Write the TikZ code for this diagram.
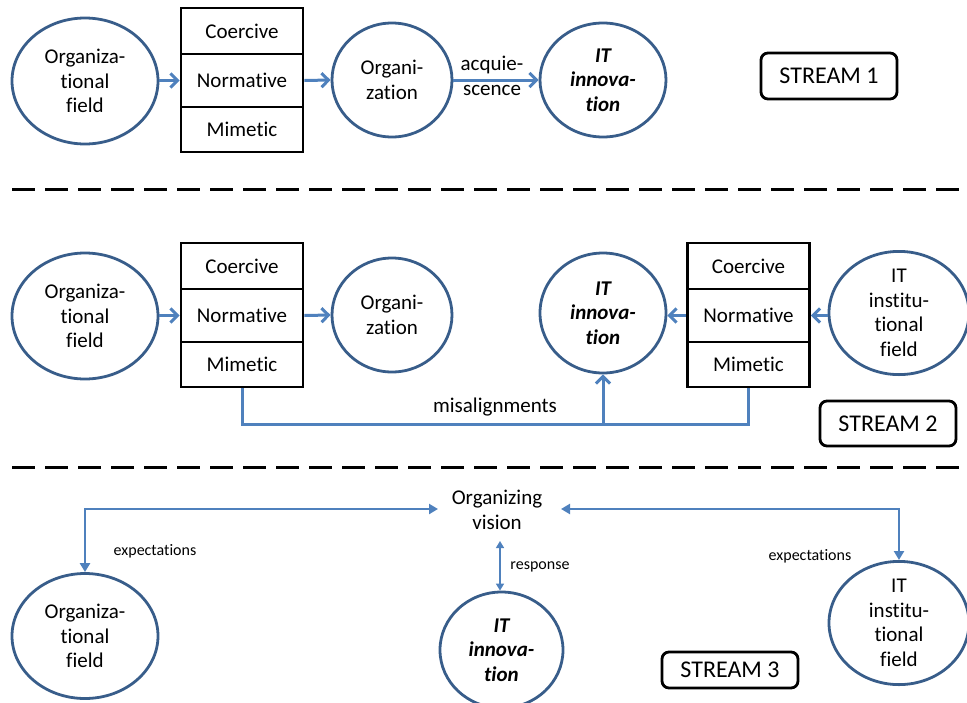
\documentclass[tikz,border=0pt]{standalone}
\usepackage{fontspec}
\setmainfont{Carlito}[Ligatures=NoCommon]
\usetikzlibrary{shapes.geometric,arrows.meta}
\definecolor{ellblue}{HTML}{385D8A}
\definecolor{arrblue}{HTML}{4F81BD}
\begin{document}
\begin{tikzpicture}[x=1pt,y=-1pt,
  every node/.style={font=\fontsize{21}{24.5}\selectfont},
  ell/.style={draw=ellblue,line width=2.8pt,ellipse,inner sep=0pt,align=center},
  cell/.style={draw=black,line width=2.8pt,rectangle,minimum width=122pt,inner sep=0pt},
  streambox/.style={draw=black,line width=2.8pt,rectangle,rounded corners=7pt,minimum width=136pt,inner sep=0pt,font=\fontsize{24}{28}\selectfont},
  oarrow/.style={draw=arrblue,line width=3pt,-{Straight Barb[length=7pt,width=14pt,line width=3pt]}},
  bline/.style={draw=arrblue,line width=3pt},
  farrow/.style={draw=arrblue,line width=2.6pt,{Triangle[length=9pt,width=10pt]}-{Triangle[length=9pt,width=10pt]}},
  tarrow/.style={draw=arrblue,line width=1.5pt,{Triangle[length=7pt,width=8pt]}-{Triangle[length=7pt,width=8pt]}},
  small/.style={font=\fontsize{16}{19}\selectfont},
  sep/.style={draw=black,line width=3pt,dash pattern=on 23pt off 10pt}
]
\useasboundingbox (0,0) rectangle (967,702);

% ---------- STREAM 1 ----------
\node[ell,minimum width=146pt,minimum height=126pt] (of1) at (85,81) {Organiza-\\tional\\field};
\node[cell,minimum height=46pt] (co1) at (242,31) {Coercive};
\node[cell,minimum height=53pt] (no1) at (242,80.5) {Normative};
\node[cell,minimum height=45pt] (mi1) at (242,129.5) {Mimetic};
\node[ell,minimum width=120pt,minimum height=114pt] (or1) at (392,80) {Organi-\\zation};
\node[ell,minimum width=126pt,minimum height=114pt] (it1) at (603,80) {\bfseries\itshape IT\\\bfseries\itshape innova-\\\bfseries\itshape tion};
\node[streambox,minimum height=46pt] (s1) at (829,76) {STREAM 1};
\draw[oarrow] (of1.east |- no1) -- (no1.west);
\draw[oarrow] (no1.east) -- (or1.west);
\draw[oarrow] (or1.east) -- (it1.west);
\node (acq) at (492,65) {acquie-};
\node (sce) at (492,90) {scence};

\draw[sep] (12,189) -- (967,189);

% ---------- STREAM 2 ----------
\node[ell,minimum width=146pt,minimum height=126pt] (of2) at (85,316) {Organiza-\\tional\\field};
\node[cell,minimum height=46pt] (co2) at (242,266) {Coercive};
\node[cell,minimum height=53pt] (no2) at (242,315.5) {Normative};
\node[cell,minimum height=45pt] (mi2) at (242,364.5) {Mimetic};
\node[ell,minimum width=120pt,minimum height=114pt] (or2) at (392,315) {Organi-\\zation};
\node[ell,minimum width=126pt,minimum height=120pt] (it2) at (603,313) {\bfseries\itshape IT\\\bfseries\itshape innova-\\\bfseries\itshape tion};
\node[cell,minimum height=46pt] (co3) at (748.5,266) {Coercive};
\node[cell,minimum height=53pt] (no3) at (748.5,315.5) {Normative};
\node[cell,minimum height=45pt] (mi3) at (748.5,364.5) {Mimetic};
\node[ell,minimum width=140pt,minimum height=120pt] (itf2) at (899,313) {IT\\institu-\\tional\\field};
\node[streambox,minimum height=45pt] (s2) at (888,423.5) {STREAM 2};
\draw[oarrow] (of2.east |- no2) -- (no2.west);
\draw[oarrow] (no2.east) -- (or2.west);
\draw[oarrow] (no3.west) -- (it2.east |- no3);
\draw[oarrow] (itf2.west |- no3) -- (no3.east);
\coordinate (mis) at (603,424);
\draw[bline] (mi2.south) |- (mis) -| (mi3.south);
\draw[oarrow] (mis) -- (it2.south);
\node (misl) at (495,407) {misalignments};

\draw[sep] (12,467) -- (967,467);

% ---------- STREAM 3 ----------
\node[align=center] (ov) at (497,510) {Organizing\\vision};
\coordinate (ovl) at (438,509);
\coordinate (ovr) at (561,509);
\coordinate (ovb) at (500,541);
\node[ell,minimum width=146pt,minimum height=125pt] (of3) at (85,636) {Organiza-\\tional\\field};
\node[ell,minimum width=123pt,minimum height=116pt] (it3) at (501.5,650) {\bfseries\itshape IT\\\bfseries\itshape innova-\\\bfseries\itshape tion};
\node[ell,minimum width=140pt,minimum height=110pt] (itf3) at (899,623) {IT\\institu-\\tional\\field};
\node[streambox,minimum height=36pt] (s3) at (730,670) {STREAM 3};
\draw[farrow] (of3.north) |- (ovl);
\draw[farrow] (ovr) -| (itf3.north);
\draw[tarrow] (ovb) -- (ovb |- it3.north);
\node[small] (e1) at (155,551) {expectations};
\node[small] (e2) at (810,556) {expectations};
\node[small] (re) at (540,567) {response};
\end{tikzpicture}
\end{document}
